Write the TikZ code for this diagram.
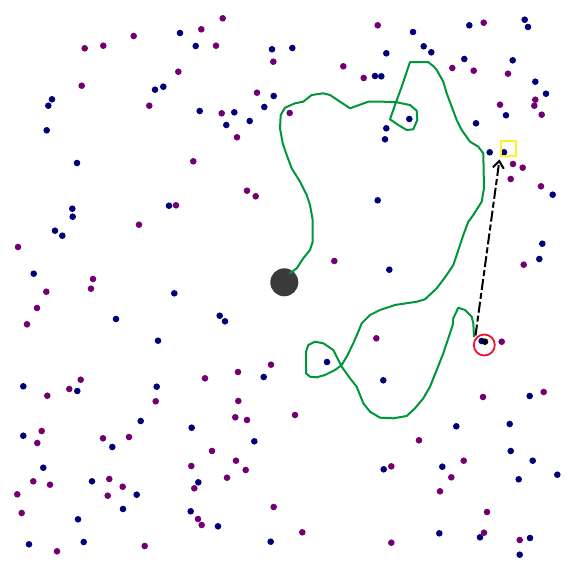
\documentclass[tikz,border=0pt]{standalone}
\usetikzlibrary{arrows.meta}
\definecolor{dotnavy}{RGB}{0,0,120}
\definecolor{dotpurple}{RGB}{115,0,115}
\definecolor{pathgreen}{RGB}{0,150,60}
\definecolor{startgray}{RGB}{58,58,58}
\definecolor{goalyellow}{RGB}{255,240,40}
\definecolor{agentred}{RGB}{235,20,50}
\tikzset{
  navydot/.style={fill=dotnavy},
  purpledot/.style={fill=dotpurple},
  trail/.style={draw=pathgreen,line width=2pt,line join=round,line cap=round},
  goalbox/.style={draw=goalyellow,line width=2pt,minimum size=15pt,inner sep=0pt,shape=rectangle},
  agentring/.style={draw=agentred,line width=1.8pt,circle,minimum size=21pt,inner sep=0pt},
  startdisc/.style={fill=startgray,circle,minimum size=28pt,inner sep=0pt},
  aimarrow/.style={draw=black,line width=2pt,dash pattern=on 11pt off 3pt on 6pt off 3pt,-{Straight Barb[length=7pt,width=11pt,line width=2pt]}}
}
\begin{document}
\begin{tikzpicture}[x=1pt,y=-1pt]
\useasboundingbox[fill=white] (0,0) rectangle (568,565);
% navy dots
\foreach \p in {(180,33),(195.7,46),(272,49.3),(155,89.7),(163.3,86.7),(52,99.3),(48.3,105.7),(46.7,130.3),(273.7,96),(264.3,107),(199.7,111),(234.3,112.3),(226.3,125),(249.7,121),(77,163),(72.3,208.7),(72.7,216.7),(55,230.7),(62.3,235.7),(169,205.7),(33.7,273.7),
(524.7,19.7),(528,27),(469.3,25.3),(413,32),(292.3,48),(386.3,53.3),(423.7,46.3),(431.3,52.3),(464.3,59),(512.7,60.3),(375,76),(381.3,76.3),(535.3,81.7),(546,93.7),(506,115.3),(409.3,119),(386.3,128.3),(385,139.3),(476,123.3),(489.7,152.3),(504,152.3),(552.7,194.7),(377.7,200.3),(542.3,243.7),(539.3,259),(389.3,269.7),
(174.3,293.3),(116,319),(219.7,315.7),(225,321.3),(158,340.7),(23.3,386.3),(77.3,391),(156.7,386.7),(263.7,377),(140.7,421),(191.7,427.7),(23.3,435.7),(112.3,447),(254.3,441.3),(43.3,467.7),(92,481.3),(198.3,482.3),(136.7,494.7),(123,509),(190.7,511.3),(78,519.3),(218,526.3),(29,544.3),(83.7,542),(270.7,541.7),
(327,362),(383.3,380.3),(529.7,396),(509.7,424),(456.3,426.3),(510.7,451),(532.7,460.7),(557.3,474.7),(383.7,469.3),(442.3,466.7),(518.7,479.3),(439.3,533.3),(480,537.3),(530,538),(519.7,554.7)}
  \fill[navydot] \p circle[radius=3.3];
% purple dots
\foreach \p in {(222.7,18.3),(201.3,29.3),(133.7,36),(84.7,48.3),(103.3,45.7),(216,45.7),(178.3,71.7),(81.7,85.7),(149.3,105.7),(273.3,61.7),(257,92.7),(221.7,113.3),(237,137.3),(193.3,161.3),(247,190.7),(255.7,196.3),(176,205.3),(139,224.7),(18,247),(93,279),
(377.7,25.3),(483.7,22.7),(343.3,66.3),(363.7,78),(452.3,68),(473.7,70.7),(508,73.7),(289.7,113),(500,104.7),(535.3,99.7),(534.3,105.7),(541.7,114.7),(513,164),(522.7,167.7),(510.7,179),(541,186.3),(334.3,261),(523.7,264.7),
(46.3,291.7),(91,288.7),(37,308),(27,324.3),(271,364.7),(238,372),(205,378.3),(80.7,379.7),(69.3,389),(47.3,395.7),(155.7,401.3),(238.3,401),(235.3,417.3),(247,420),(41.7,431),(37.3,443),(103,438.3),(129,437),(212,451),(191.3,466),(236,460.7),(245.7,470),(227,477.7),(33.3,481.3),(50,484.7),(109.3,479),(122.7,486.7),(107.7,495.7),(17.3,494.3),(194.3,488.3),(273.7,507),(21.7,513),(198,519),(201.7,525),(57,551.3),(144.7,546),
(376.3,338.3),(501.7,341.7),(543.7,392),(483,397),(295,415),(419,440.3),(463.7,460.7),(391.3,466.3),(451.3,477.3),(440,491.3),(487,512),(302.3,532.3),(484,532.7),(391.3,542.7),(519.7,540)}
  \fill[purpledot] \p circle[radius=3.3];
% start disc
\node[startdisc] (start) at (284.3,282.3) {};
% trail
\draw[trail] (290,273.3) -- (296.7,268.3) -- (300,263.3) -- (303.3,258.3) -- (310,250) -- (312.7,241.7) -- (312.7,220) -- (310,205) -- (306.7,195) -- (300,181.7) -- (291.7,168.3) -- (286.7,155) -- (282.7,143.3) -- (280,128.3) -- (280.7,115) -- (285,107.7) -- (295,103.3) -- (303.3,101.7) -- (311.7,95) -- (323.3,93.3) -- (330,95) -- (350,108.3) -- (368.3,101.7) -- (383.3,101.7) -- (396.7,102.3) -- (410,105) -- (416.7,110.7) -- (417.3,120) -- (413.3,129.3) -- (406.7,130) -- (398.3,125) -- (390,119.3) -- (395,105) -- (401.7,86.7) -- (410,62) -- (428,62) -- (434,66.7) -- (436.7,70) -- (443.3,81.7) -- (446.7,93.3) -- (451.7,106.7) -- (456.7,120) -- (461.7,130) -- (470,141.7) -- (478.3,146.7) -- (483.3,153.3) -- (484,188.3) -- (481.7,201.7) -- (473.3,215) -- (468.3,221.7) -- (463.3,235) -- (456.7,255) -- (453.3,265) -- (446.7,275) -- (436.7,288.3) -- (425,299.3) -- (416.7,301.7) -- (395,305) -- (380,310) -- (370,315) -- (361.7,323.3) -- (358.3,331.7) -- (353.3,343.3) -- (346.7,356.7) -- (341.7,365) -- (335,370) -- (325,375) -- (316.7,377.3) -- (310,376.7) -- (306,373.3) -- (306,351.7) -- (308.3,345) -- (315,341.7) -- (323.3,343.3) -- (333.3,350) -- (338.3,360) -- (341.7,366.7) -- (350,378.3) -- (356.7,386.7) -- (363.3,403.3) -- (370,411.7) -- (380,417.7) -- (393.3,418.3) -- (406.7,416) -- (415,408.3) -- (423.3,398.3) -- (430,386.7) -- (436.7,370) -- (443.3,353.3) -- (450,333.3) -- (452.7,325) -- (453.3,318.3) -- (458.3,307.7) -- (465,310) -- (471.7,316.7) -- (473.3,323.3) -- (474,336.7);
% goal
\node[goalbox] (goal) at (508,148.5) {};
% agent
\fill[navydot] (481.7,341) circle[radius=3.3];
\fill[black] (485,341.7) circle[radius=3.3];
\node[agentring] (agent) at (484.3,345) {};
\coordinate (aimfrom) at (475.5,335.5);
\coordinate (aimto) at (499.5,159.5);
\draw[aimarrow] (aimfrom) -- (aimto);
\end{tikzpicture}
\end{document}
